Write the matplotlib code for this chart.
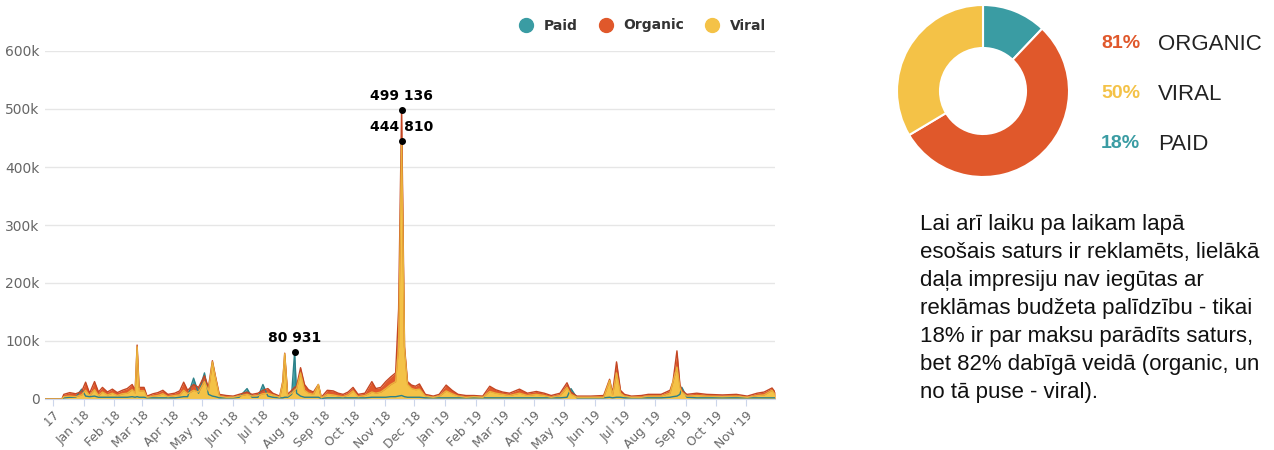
import matplotlib.pyplot as plt
import matplotlib.dates as mdates
from matplotlib.lines import Line2D
from matplotlib.transforms import Bbox, TransformedBbox
import pandas as pd

# daily impressions, thousands
dates = ['2017-11-23', '2017-12-10', '2017-12-12', '2017-12-18', '2017-12-24', '2017-12-30',
         '2018-01-03', '2018-01-07', '2018-01-12', '2018-01-16', '2018-01-20', '2018-01-25',
         '2018-01-30', '2018-02-04', '2018-02-09', '2018-02-14', '2018-02-19', '2018-02-22',
         '2018-02-24', '2018-02-26', '2018-03-03', '2018-03-06', '2018-03-12', '2018-03-17',
         '2018-03-22', '2018-03-27', '2018-04-03', '2018-04-08', '2018-04-12', '2018-04-16',
         '2018-04-22', '2018-04-27', '2018-05-03', '2018-05-07', '2018-05-11', '2018-05-14',
         '2018-05-18', '2018-05-25', '2018-06-01', '2018-06-07', '2018-06-15', '2018-06-20',
         '2018-06-26', '2018-07-01', '2018-07-06', '2018-07-11', '2018-07-18', '2018-07-21',
         '2018-07-23', '2018-07-26', '2018-07-30', '2018-08-02', '2018-08-04', '2018-08-08',
         '2018-08-12', '2018-08-16', '2018-08-21', '2018-08-26', '2018-08-29', '2018-09-04',
         '2018-09-10', '2018-09-15', '2018-09-20', '2018-09-25', '2018-09-30', '2018-10-05',
         '2018-10-12', '2018-10-19', '2018-10-23', '2018-10-28', '2018-11-02', '2018-11-07',
         '2018-11-12', '2018-11-15', '2018-11-18', '2018-11-21', '2018-11-24', '2018-11-28',
         '2018-12-02', '2018-12-06', '2018-12-12', '2018-12-20', '2018-12-26', '2019-01-02',
         '2019-01-08', '2019-01-14', '2019-01-22', '2019-01-30', '2019-02-08', '2019-02-15',
         '2019-02-21', '2019-02-28', '2019-03-07', '2019-03-17', '2019-03-25', '2019-04-03',
         '2019-04-11', '2019-04-18', '2019-04-27', '2019-05-04', '2019-05-08', '2019-05-14',
         '2019-05-28', '2019-06-10', '2019-06-16', '2019-06-19', '2019-06-23', '2019-06-27',
         '2019-07-01', '2019-07-08', '2019-07-18', '2019-07-25', '2019-08-07', '2019-08-16',
         '2019-08-19', '2019-08-23', '2019-08-26', '2019-08-28', '2019-09-02', '2019-09-12',
         '2019-09-22', '2019-10-08', '2019-10-22', '2019-11-02', '2019-11-12', '2019-11-19',
         '2019-11-27', '2019-11-30']
organic = [0, 0, 8, 11, 9, 13,
           29, 10, 30, 12, 20, 12,
           17, 11, 15, 18, 25, 15,
           93, 20, 20, 5, 9, 11,
           15, 8, 10, 14, 29, 15,
           25, 20, 40, 20, 66, 40,
           8, 6, 5, 8, 12, 8,
           10, 15, 18, 10, 5, 30,
           79, 8, 15, 20, 22, 54,
           25, 16, 12, 25, 3, 15,
           14, 10, 8, 12, 20, 8,
           10, 30, 18, 20, 30, 38,
           45, 155, 499.136, 90, 30, 24,
           22, 26, 8, 5, 8, 24,
           15, 8, 6, 6, 5, 22,
           16, 12, 10, 17, 10, 13,
           10, 6, 10, 28, 12, 5,
           5, 6, 34, 10, 64, 15,
           8, 5, 6, 8, 8, 15,
           30, 83, 25, 15, 8, 10,
           8, 7, 8, 5, 10, 12,
           19, 12]
viral = [0, 0, 4, 5, 4, 7,
         15, 6, 16, 6, 12, 7,
         10, 6, 9, 10, 16, 10,
         90, 14, 14, 3, 5, 6,
         9, 4, 6, 7, 15, 9,
         15, 12, 30, 14, 64, 38,
         5, 3, 3, 5, 8, 5,
         6, 9, 10, 7, 3, 28,
         78, 5, 10, 15, 18, 45,
         15, 10, 8, 25, 2, 8,
         7, 5, 4, 7, 14, 4,
         6, 12, 10, 12, 18, 25,
         30, 90, 444.81, 85, 25, 18,
         16, 17, 5, 3, 5, 14,
         9, 5, 3, 4, 3, 13,
         10, 8, 6, 10, 6, 8,
         6, 3, 6, 20, 8, 3,
         3, 3, 32, 7, 45, 10,
         5, 3, 3, 5, 5, 10,
         30, 55, 20, 12, 5, 6,
         5, 4, 5, 3, 6, 7,
         15, 8]
paid = [0, 0, 2, 3, 3, 17,
        5, 4, 5, 3, 3, 3,
        3, 3, 3, 3, 4, 3,
        4, 3, 3, 2, 2, 2,
        2, 2, 2, 3, 4, 4,
        36, 10, 45, 8, 5, 4,
        2, 2, 2, 3, 18, 3,
        3, 25, 5, 3, 2, 2,
        3, 3, 8, 80.931, 10, 5,
        3, 3, 3, 3, 1, 2,
        2, 2, 2, 2, 2, 2,
        2, 3, 3, 3, 3, 4,
        4, 5, 6, 4, 3, 3,
        3, 3, 2, 2, 2, 2,
        2, 2, 2, 2, 2, 2,
        2, 2, 2, 2, 2, 2,
        2, 2, 2, 3, 18, 2,
        2, 2, 3, 2, 3, 3,
        2, 2, 2, 2, 2, 3,
        4, 5, 8, 20, 3, 2,
        2, 2, 2, 2, 2, 2,
        2, 2]

share_labels = ['PAID', 'ORGANIC', 'VIRAL']
share_values = [18, 81, 50]

text = ("Lai arī laiku pa laikam lapā\n"
        "esošais saturs ir reklamēts, lielākā\n"
        "daļa impresiju nav iegūtas ar\n"
        "reklāmas budžeta palīdzību - tikai\n"
        "18% ir par maksu parādīts saturs,\n"
        "bet 82% dabīgā veidā (organic, un\n"
        "no tā puse - viral).")

c_paid, c_org, c_vir = '#3a9ca3', '#e0582b', '#f4c247'
e_paid, e_org, e_vir = '#2c8189', '#c44623', '#eab23c'

d = pd.to_datetime(dates)

fig = plt.figure(figsize=(12.74, 4.5), dpi=100)
ax = fig.add_axes([45/1274, 1-399/450, 730/1274, 348/450])

ax.fill_between(d, 0, paid, color=c_paid, lw=0)
ax.plot(d, paid, color=e_paid, lw=1)
ax.fill_between(d, 0, organic, color=c_org, lw=0)
ax.plot(d, organic, color=e_org, lw=1)
ax.fill_between(d, 0, viral, color=c_vir, lw=0)
ax.plot(d, viral, color=e_vir, lw=1)

# labelled points
for series in (organic, viral, paid):
    i = max(range(len(series)), key=lambda k: series[k])
    v = series[i]
    ax.plot(d[i], v, 'o', color='black', ms=4, zorder=5)
    lab = f"{v*1000:,.0f}".replace(',', ' ')
    ax.annotate(lab, (d[i], v), xytext=(0, 5), textcoords='offset points',
                ha='center', va='bottom', fontsize=10, fontweight='bold', zorder=6)

ax.set_ylim(0, 600)
ax.set_xlim(d[0], d[-1])
ax.set_yticks(range(0, 700, 100))
ax.set_yticklabels(['0'] + [f'{v}k' for v in range(100, 700, 100)])
ax.yaxis.set_tick_params(length=0, labelsize=10, labelcolor='#666666', pad=4)
ax.yaxis.grid(True, color='#e6e6e6', lw=1)
ax.set_axisbelow(True)
for s in ['top', 'right', 'left']:
    ax.spines[s].set_visible(False)
ax.spines['bottom'].set_color('#ccd6eb')
ax.xaxis.set_major_locator(mdates.MonthLocator())
ax.xaxis.set_major_formatter(mdates.DateFormatter("%b '%y"))
ax.tick_params(axis='x', length=5, color='#ccd6eb', labelsize=8.8, labelcolor='#666666', pad=2)
plt.setp(ax.get_xticklabels(), rotation=45, ha='right', rotation_mode='anchor')

handles = [Line2D([], [], marker='o', ls='', color=c, ms=10) for c in (c_paid, c_org, c_vir)]
fig.legend(handles, ['Paid', 'Organic', 'Viral'], loc='upper right',
           bbox_to_anchor=(779/1274, 1-6/450), ncol=3, frameon=False,
           prop={'weight': 'bold', 'size': 10}, handletextpad=0.3, columnspacing=1.0,
           labelcolor='#333333')

# donut
ax2 = fig.add_axes([(983-86)/1274, 1-(91+86)/450, 172/1274, 172/450])
ax2.pie(share_values, colors=[c_paid, c_org, c_vir], startangle=90, counterclock=False,
        radius=1, wedgeprops=dict(width=0.5, edgecolor='white', linewidth=1.5))
ax2.set_xlim(-1, 1)
ax2.set_ylim(-1, 1)
ax2.set_aspect('equal')
ax2.axis('off')

pct = {'ORGANIC': 81, 'VIRAL': 50, 'PAID': 18}
cols = {'ORGANIC': c_org, 'VIRAL': c_vir, 'PAID': c_paid}
for name, y in (('ORGANIC', 44), ('VIRAL', 94), ('PAID', 144)):
    fig.text(1101/1274, 1-y/450, f"{pct[name]}%", color=cols[name], fontsize=14,
             fontweight='bold', family='Liberation Sans', va='center', ha='left')
    fig.text(1158/1274, 1-y/450, name, color='#222222', fontsize=16,
             family='Liberation Sans', va='center', ha='left')

fig.text(920/1274, 1-214/450, text, fontsize=16, va='top', ha='left', color='#111111',
         family=['Liberation Sans Narrow', 'Liberation Sans'], linespacing=1.44)

# the first month label is cut by the plot's left edge
fig.canvas.draw()
clip = TransformedBbox(Bbox([[44/1274, 0], [1, 1]]), fig.transFigure)
first = ax.xaxis.get_major_ticks()[0].label1
first.set_clip_box(clip)
first.set_clip_on(True)

fig.savefig('out.png', dpi=100)
